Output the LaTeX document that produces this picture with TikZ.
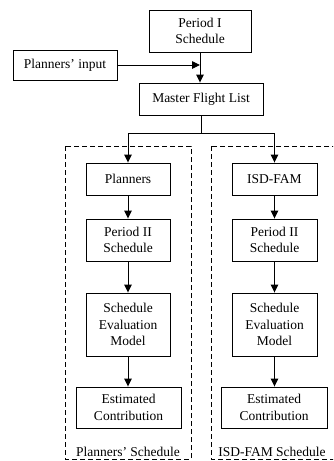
\documentclass[tikz,border=0pt]{standalone}
\usepackage{fontspec}
\setmainfont{Liberation Serif}
\usetikzlibrary{arrows.meta}
\begin{document}
\begin{tikzpicture}[x=1pt,y=-1pt,
  every node/.style={font=\fontsize{13.5}{16.5}\selectfont},
  block/.style={draw,line width=0.9pt,align=center,inner sep=0pt},
  arr/.style={line width=0.9pt,-{Triangle[length=8pt,width=7.5pt]}},
  link/.style={line width=0.9pt},
  group/.style={draw,line width=0.9pt,dash pattern=on 5pt off 3pt}]
\useasboundingbox (0,0) rectangle (333,461);

% dashed group frames (the right one runs past the page edge)
\begin{scope}
\clip (0,0) rectangle (333,461);
\draw[group] (65,146) rectangle (191,459);
\draw[group] (211,146) rectangle (345,459);
\end{scope}

% top part
\node[block,minimum width=102pt,minimum height=42pt] (p1) at (200,31) {Period I\\Schedule};
\node[block,minimum width=104pt,minimum height=30pt] (pin) at (65,65) {Planners' input};
\node[block,minimum width=124pt,minimum height=32pt] (mfl) at (201,99) {Master Flight List};

% left branch
\node[block,minimum width=84pt,minimum height=32pt] (plan) at (128,179) {Planners};
\node[block,minimum width=84pt,minimum height=42pt] (p2l) at (128,240) {Period II\\Schedule};
\node[block,minimum width=84pt,minimum height=63pt] (sel) at (128,324.5) {Schedule\\Evaluation\\Model};
\node[block,minimum width=105pt,minimum height=41pt] (ecl) at (128.5,407.5) {Estimated\\Contribution};
\node (labl) at (128,452) {Planners' Schedule};

% right branch
\node[block,minimum width=85pt,minimum height=32pt] (isd) at (274.5,179) {ISD-FAM};
\node[block,minimum width=85pt,minimum height=42pt] (p2r) at (274.5,240) {Period II\\Schedule};
\node[block,minimum width=85pt,minimum height=63pt] (ser) at (274.5,324.5) {Schedule\\Evaluation\\Model};
\node[block,minimum width=106pt,minimum height=41pt] (ecr) at (274,407.5) {Estimated\\Contribution};
\node (labr) at (272,452) {ISD-FAM Schedule};

% connectors
\coordinate (fork) at (201,133);
\draw[arr] (pin.east) -- (p1.south |- pin.east);
\draw[arr] (p1.south) -- (p1.south |- mfl.north);
\draw[link] (mfl.south) -- (fork);
\draw[arr] (fork) -| (plan.north);
\draw[arr] (fork) -| (isd.north);
\draw[arr] (plan) -- (p2l);
\draw[arr] (p2l) -- (sel);
\draw[arr] (sel) -- (ecl.north -| sel.south);
\draw[arr] (isd) -- (p2r);
\draw[arr] (p2r) -- (ser);
\draw[arr] (ser) -- (ecr.north -| ser.south);
\end{tikzpicture}
\end{document}
